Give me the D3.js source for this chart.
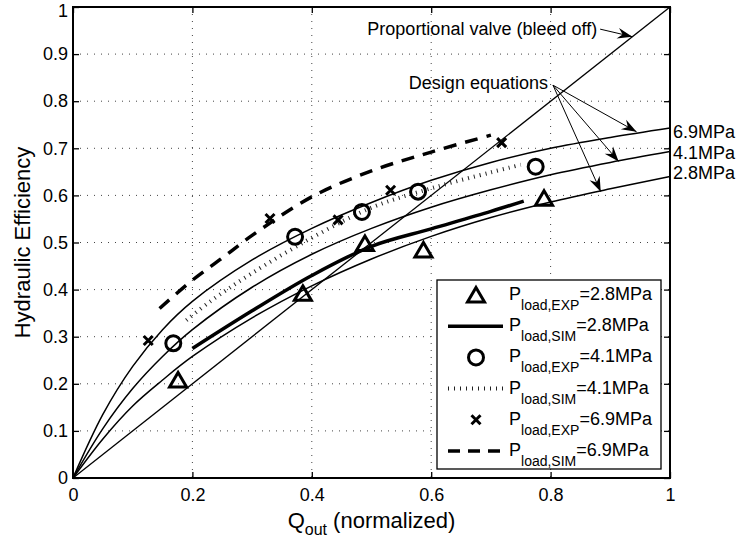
<!DOCTYPE html>
<html><head><meta charset="utf-8">
<script src="https://cdn.jsdelivr.net/npm/d3@7"></script>
<style>
body{margin:0;background:#fff}
svg{display:block}
text{font-family:"Liberation Sans",Arial,Helvetica,sans-serif;fill:#000}
</style>
</head><body>
<svg id="c" width="739" height="541"></svg>
<script>
// ---------- data ----------
const xTicks=[0,0.2,0.4,0.6,0.8,1];
const xTickLabels=["0","0.2","0.4","0.6","0.8","1"];
const yTicks=[0,0.1,0.2,0.3,0.4,0.5,0.6,0.7,0.8,0.9,1];
const yTickLabels=["0","0.1","0.2","0.3","0.4","0.5","0.6","0.7","0.8","0.9","1"];

// design equation curves
const designX=[0,0.05,0.1,0.15,0.2,0.3,0.4,0.5,0.6,0.7,0.8,0.9,1];
const design69=[0,0.135,0.237,0.315,0.375,0.463,0.53,0.585,0.632,0.67,0.7,0.723,0.743];
const design41=[0,0.105,0.19,0.258,0.315,0.405,0.475,0.53,0.575,0.612,0.644,0.67,0.693];
const design28=[0,0.083,0.153,0.208,0.258,0.34,0.408,0.465,0.513,0.553,0.586,0.614,0.64];
const designNames=["6.9MPa","4.1MPa","2.8MPa"];
const designLabelY=[0.735,0.692,0.649];

// proportional valve (bleed off)
const valveX=[0,1];
const valveY=[0,1];

// simulation
const sim28X=[0.2,0.3,0.4,0.5,0.6,0.7,0.755];
const sim28Y=[0.275,0.355,0.43,0.492,0.529,0.566,0.588];
const sim41X=[0.19,0.23,0.3,0.4,0.5,0.6,0.7,0.75];
const sim41Y=[0.335,0.375,0.435,0.51,0.574,0.615,0.649,0.665];
const sim69X=[0.145,0.2,0.25,0.3,0.4,0.5,0.6,0.7];
const sim69Y=[0.36,0.42,0.467,0.515,0.597,0.652,0.692,0.728];

// experiments
const exp28X=[0.176,0.385,0.489,0.587,0.789];
const exp28Y=[0.208,0.392,0.498,0.484,0.594];
const exp41X=[0.168,0.372,0.484,0.578,0.775];
const exp41Y=[0.286,0.512,0.565,0.608,0.661];
const exp69X=[0.126,0.33,0.444,0.532,0.718];
const exp69Y=[0.292,0.551,0.548,0.611,0.712];

// annotations (data coordinates)
const valveNote={text:"Proportional valve (bleed off)",tx:0.878,ty:0.941,from:[0.883,0.953],to:[0.937,0.937]};
const designNote={text:"Design equations",tx:0.7956,ty:0.826,from:[0.804,0.834],
  to:[[0.944,0.735],[0.914,0.672],[0.884,0.608]]};

const legendItems=[
  {kind:"tri",sub:"load,EXP",val:"=2.8MPa"},
  {kind:"solid",sub:"load,SIM",val:"=2.8MPa"},
  {kind:"circ",sub:"load,EXP",val:"=4.1MPa"},
  {kind:"dot",sub:"load,SIM",val:"=4.1MPa"},
  {kind:"cross",sub:"load,EXP",val:"=6.9MPa"},
  {kind:"dash",sub:"load,SIM",val:"=6.9MPa"}
];

// ---------- layout ----------
const L=73,R=670,T=7,B=478;
const svg=d3.select("#c");
const x=d3.scaleLinear().domain([0,1]).range([L,R]);
const y=d3.scaleLinear().domain([0,1]).range([B,T]);
const zip=(a,b)=>a.map((v,i)=>[v,b[i]]);
const line=d3.line().x(d=>x(d[0])).y(d=>y(d[1]));
const smooth=d3.line().x(d=>x(d[0])).y(d=>y(d[1])).curve(d3.curveCatmullRom.alpha(0.5));

// grid
const grid=svg.append("g");
grid.selectAll("line.gx").data(xTicks.slice(1,-1)).enter().append("line")
  .attr("x1",d=>x(d)).attr("x2",d=>x(d)).attr("y1",T).attr("y2",B)
  .attr("stroke","#444").attr("stroke-width",1).attr("stroke-dasharray","1,6");
grid.selectAll("line.gy").data(yTicks.slice(1,-1)).enter().append("line")
  .attr("y1",d=>y(d)).attr("y2",d=>y(d)).attr("x1",L).attr("x2",R)
  .attr("stroke","#444").attr("stroke-width",1).attr("stroke-dasharray","1,6");

// axes with inward ticks on all sides
const axB=d3.axisBottom(x).tickValues(xTicks).tickFormat((d,i)=>xTickLabels[i]).tickSizeInner(-6).tickSizeOuter(0).tickPadding(10);
const axT=d3.axisTop(x).tickValues(xTicks).tickFormat("").tickSizeInner(-6).tickSizeOuter(0);
const axL=d3.axisLeft(y).tickValues(yTicks).tickFormat((d,i)=>yTickLabels[i]).tickSizeInner(-6).tickSizeOuter(0).tickPadding(5);
const axR=d3.axisRight(y).tickValues(yTicks).tickFormat("").tickSizeInner(-6).tickSizeOuter(0);
function style(g){g.select(".domain").remove();g.selectAll("line").attr("stroke","#000").attr("stroke-width",1.3);
  g.selectAll("text").attr("font-size",18).attr("font-family","Liberation Sans, Arial, sans-serif").attr("fill","#000");}
svg.append("g").attr("transform",`translate(0,${B})`).call(axB).call(style);
svg.append("g").attr("transform",`translate(0,${T})`).call(axT).call(style);
const gL=svg.append("g").attr("transform",`translate(${L},0)`).call(axL).call(style);
gL.selectAll(".tick text").filter(d=>d===1).attr("dy","0.5em");
svg.append("g").attr("transform",`translate(${R},0)`).call(axR).call(style);

// data lines
const plot=svg.append("g");
plot.append("path").attr("d",line(zip(valveX,valveY))).attr("fill","none").attr("stroke","#000").attr("stroke-width",1.3);
[design69,design41,design28].forEach(ys=>{
  plot.append("path").attr("d",smooth(zip(designX,ys))).attr("fill","none").attr("stroke","#000").attr("stroke-width",1.5);
});
plot.append("path").attr("d",smooth(zip(sim28X,sim28Y))).attr("fill","none").attr("stroke","#000").attr("stroke-width",3.5);
plot.append("path").attr("d",smooth(zip(sim41X,sim41Y))).attr("fill","none").attr("stroke","#222").attr("stroke-width",4).attr("stroke-dasharray","1,5");
plot.append("path").attr("d",smooth(zip(sim69X,sim69Y))).attr("fill","none").attr("stroke","#000").attr("stroke-width",3.5).attr("stroke-dasharray","13,9");

// markers
function marker(g,kind,cx,cy){
  if(kind==="tri"){
    g.append("path").attr("d",`M${cx},${cy-7.5}L${cx+8.5},${cy+7}L${cx-8.5},${cy+7}Z`)
      .attr("fill","none").attr("stroke","#000").attr("stroke-width",3).attr("stroke-linejoin","miter");
  } else if(kind==="circ"){
    g.append("circle").attr("cx",cx).attr("cy",cy).attr("r",7.5).attr("fill","none").attr("stroke","#000").attr("stroke-width",3);
  } else if(kind==="cross"){
    g.append("path").attr("d",`M${cx-4.5},${cy-4.5}L${cx+4.5},${cy+4.5}M${cx-4.5},${cy+4.5}L${cx+4.5},${cy-4.5}`)
      .attr("stroke","#000").attr("stroke-width",3);
  }
}
zip(exp28X,exp28Y).forEach(d=>marker(plot,"tri",x(d[0]),y(d[1])));
zip(exp41X,exp41Y).forEach(d=>marker(plot,"circ",x(d[0]),y(d[1])));
zip(exp69X,exp69Y).forEach(d=>marker(plot,"cross",x(d[0]),y(d[1])));

// curve labels on the right
designNames.forEach((n,i)=>{
  svg.append("text").attr("x",R+3).attr("y",y(designLabelY[i])).attr("dy","0.36em").attr("font-size",18).text(n);
});

// arrows
function arrow(g,x0,y0,x1,y1){
  g.append("line").attr("x1",x0).attr("y1",y0).attr("x2",x1).attr("y2",y1).attr("stroke","#000").attr("stroke-width",1);
  const a=Math.atan2(y1-y0,x1-x0)*180/Math.PI;
  g.append("path").attr("d","M0,0L-15,-5.5L-10,0L-15,5.5Z").attr("fill","#000")
    .attr("transform",`translate(${x1},${y1}) rotate(${a})`);
}
const ann=svg.append("g");
ann.append("text").attr("x",x(valveNote.tx)).attr("y",y(valveNote.ty)).attr("text-anchor","end").attr("font-size",18).text(valveNote.text);
arrow(ann,x(valveNote.from[0]),y(valveNote.from[1]),x(valveNote.to[0]),y(valveNote.to[1]));
ann.append("text").attr("x",x(designNote.tx)).attr("y",y(designNote.ty)).attr("text-anchor","end").attr("font-size",18).text(designNote.text);
designNote.to.forEach(t=>arrow(ann,x(designNote.from[0]),y(designNote.from[1]),x(t[0]),y(t[1])));

// legend
const lg=svg.append("g");
const lgX0=437,lgY0=280,lgW=224,lgH=189,rowY0=295,rowStep=31.2;
lg.append("rect").attr("x",lgX0).attr("y",lgY0).attr("width",lgW).attr("height",lgH).attr("fill","#fff").attr("stroke","#000").attr("stroke-width",1.3);
legendItems.forEach((it,i)=>{
  const cy=rowY0+i*rowStep;
  if(it.kind==="solid"||it.kind==="dot"||it.kind==="dash"){
    const p=lg.append("line").attr("x1",448).attr("x2",503).attr("y1",cy).attr("y2",cy).attr("stroke","#000");
    if(it.kind==="solid") p.attr("stroke-width",3.5);
    if(it.kind==="dot") p.attr("stroke-width",4).attr("stroke","#222").attr("stroke-dasharray","1,5");
    if(it.kind==="dash") p.attr("stroke-width",3.5).attr("stroke-dasharray","12,8");
  } else marker(lg,it.kind,476,cy);
  const t=lg.append("text").attr("x",509).attr("y",cy+5).attr("font-size",18);
  t.append("tspan").text("P");
  t.append("tspan").attr("dy",10).attr("font-size",14).text(it.sub);
  t.append("tspan").attr("dy",-10).text(it.val);
});

// axis labels
const xl=svg.append("text").attr("x",(L+R)/2).attr("y",528).attr("text-anchor","middle").attr("font-size",22);
xl.append("tspan").text("Q");
xl.append("tspan").attr("dy",7).attr("font-size",16).text("out");
xl.append("tspan").attr("dy",-7).text(" (normalized)");
svg.append("text").attr("transform",`translate(30,${(T+B)/2}) rotate(-90)`).attr("text-anchor","middle").attr("font-size",22).text("Hydraulic Efficiency");

// frame
svg.append("rect").attr("x",L).attr("y",T).attr("width",R-L).attr("height",B-T).attr("fill","none").attr("stroke","#000").attr("stroke-width",2);
</script>
</body></html>
